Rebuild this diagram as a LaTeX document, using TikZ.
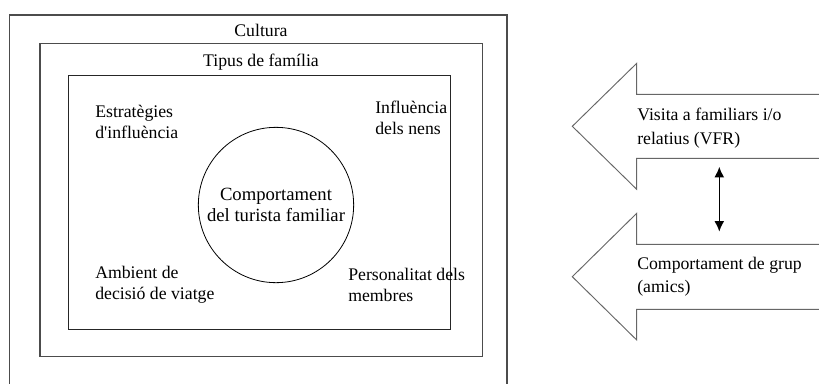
\documentclass[tikz,border=0pt]{standalone}
\usepackage{fontspec}
\setmainfont{Liberation Serif}
\usetikzlibrary{arrows.meta,positioning}

\begin{document}
\begin{tikzpicture}[x=0.75pt, y=-0.75pt,
    layerbox/.style={draw=black!70, line width=0.9pt},
    txt/.style={font=\fontsize{13.3}{15.5}\selectfont, align=left, inner sep=0pt},
    arrowtxt/.style={txt, font=\fontsize{13.3}{17.5}\selectfont},
    bigarrow/.style={draw=black!60, line width=0.7pt, fill=white},
    >={Latex[length=8pt,width=7.5pt]}
]
\useasboundingbox (0,0) rectangle (819,383);
\clip (0,0) rectangle (819,383);

% nested frames
\draw[layerbox] (9.5,15) rectangle (507,400);
\draw[layerbox] (40,43.3) rectangle (482.7,356.7);
\draw[layerbox, draw=black!85] (68.7,75.7) rectangle (450.7,329.3);
\node[txt] (cultura) at (261,30) {Cultura};
\node[txt] (tipus) at (261,61.7) {Tipus de família};

% centre
\node[draw, circle, line width=0.6pt, inner sep=0pt, minimum size=116.5pt,
      txt, font=\fontsize{14}{15.5}\selectfont, align=center] (core) at (276,205) {Comportament\\del turista familiar};

\node[txt, anchor=west] (estrat) at (95,121.7) {Estratègies\\d\textquotesingle influència};
\node[txt, anchor=west] (nens) at (375,118) {Influència\\dels nens};
\node[txt, anchor=west] (ambient) at (95,285) {Ambient de\\decisió de viatge};
\node[txt, anchor=west] (membres) at (348,285) {Personalitat dels\\membres};

% side arrows
\draw[bigarrow] (830,94.3) -- (636.7,94.3) -- (636.7,63.3) -- (572.3,126.3)
    -- (636.7,189.3) -- (636.7,158.3) -- (830,158.3);
\draw[bigarrow] (830,244.3) -- (636.7,244.3) -- (636.7,213.3) -- (572.3,276.7)
    -- (636.7,340) -- (636.7,309.3) -- (830,309.3);
\node[arrowtxt, anchor=west] (vfr) at (637,128.3) {Visita a familiars i/o\\relatius (VFR)};
\node[arrowtxt, anchor=west] (grup) at (637,276.7) {Comportament de grup\\(amics)};

\coordinate (d1) at (719.3,166.7);
\coordinate (d2) at (719.3,231.7);
\draw[<->, line width=1.2pt] (d1) -- (d2);
\end{tikzpicture}
\end{document}
